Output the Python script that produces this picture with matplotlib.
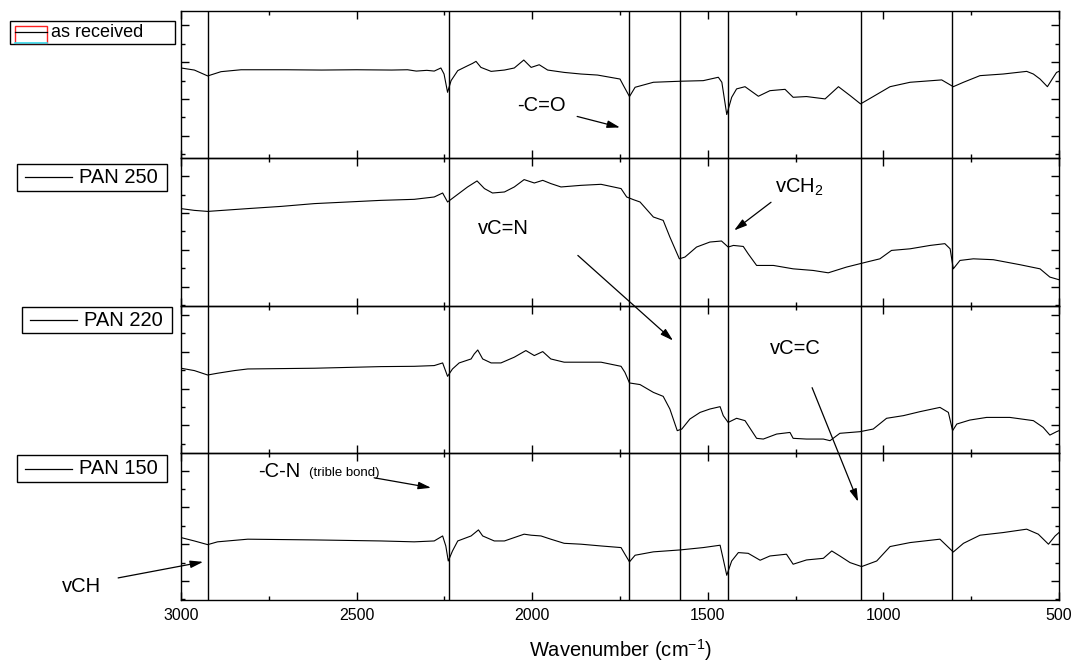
"""FTIR spectra of PAN fibre: as received and after heat treatment at 150, 220 and 250 C.

Four stacked panels sharing the wavenumber axis, band positions marked by vertical
lines and the main assignments annotated with arrows.
"""
import matplotlib
matplotlib.use('Agg')
import matplotlib.pyplot as plt
from matplotlib.lines import Line2D
from matplotlib.patches import Rectangle

plt.rcParams['font.family'] = 'Liberation Sans'
plt.rcParams['mathtext.fontset'] = 'custom'
plt.rcParams['mathtext.rm'] = 'Liberation Sans'

W, H = 1076, 663

# relative transmittance (0 = panel bottom, 1 = panel top)
WN_RECEIVED = [3000, 2962, 2924, 2886, 2829, 2700, 2600, 2500, 2400, 2355, 2330, 2300, 2279, 2260,
               2251, 2241, 2231, 2212, 2184, 2170, 2160, 2146, 2117, 2079, 2051, 2024, 2003, 1980,
               1956, 1909, 1861, 1814, 1750, 1740, 1723, 1707, 1655, 1579, 1513, 1470, 1460, 1446,
               1432, 1418, 1394, 1356, 1323, 1280, 1257, 1219, 1166, 1128, 1095, 1065, 1029, 981,
               924, 834, 801, 772, 725, 659, 592, 573, 554, 533, 516, 507, 500]
T_RECEIVED = [0.613, 0.599, 0.559, 0.588, 0.601, 0.601, 0.599, 0.601, 0.599, 0.601, 0.592, 0.597,
              0.592, 0.613, 0.572, 0.448, 0.527, 0.595, 0.628, 0.644, 0.658, 0.617, 0.590, 0.599,
              0.613, 0.667, 0.617, 0.635, 0.599, 0.583, 0.572, 0.565, 0.538, 0.493, 0.419, 0.482,
              0.516, 0.523, 0.527, 0.550, 0.516, 0.297, 0.414, 0.471, 0.486, 0.421, 0.459, 0.468,
              0.414, 0.419, 0.403, 0.486, 0.426, 0.369, 0.419, 0.486, 0.516, 0.532, 0.486, 0.516,
              0.561, 0.572, 0.590, 0.572, 0.538, 0.486, 0.550, 0.583, 0.590]

WN_250 = [3000, 2962, 2924, 2810, 2715, 2620, 2525, 2431, 2336, 2279, 2255, 2241, 2222, 2184, 2157,
          2136, 2113, 2079, 2051, 2023, 1994, 1970, 1947, 1918, 1861, 1804, 1747, 1731, 1712, 1693,
          1655, 1627, 1608, 1581, 1565, 1532, 1494, 1461, 1442, 1427, 1399, 1385, 1361, 1313, 1257,
          1200, 1157, 1105, 1048, 1010, 977, 924, 867, 825, 810, 801, 782, 744, 687, 611, 554, 526,
          500]
T_250 = [0.658, 0.646, 0.639, 0.658, 0.673, 0.692, 0.703, 0.714, 0.721, 0.737, 0.764, 0.703, 0.737,
         0.805, 0.846, 0.794, 0.764, 0.771, 0.805, 0.855, 0.832, 0.850, 0.828, 0.805, 0.816, 0.823,
         0.794, 0.737, 0.719, 0.703, 0.601, 0.578, 0.465, 0.317, 0.329, 0.397, 0.431, 0.438, 0.397,
         0.408, 0.401, 0.351, 0.272, 0.272, 0.249, 0.238, 0.222, 0.261, 0.295, 0.317, 0.374, 0.385,
         0.408, 0.420, 0.385, 0.249, 0.306, 0.317, 0.311, 0.277, 0.249, 0.193, 0.175]

WN_220 = [3000, 2962, 2924, 2896, 2848, 2810, 2620, 2431, 2336, 2279, 2255, 2241, 2227, 2208, 2174,
          2165, 2155, 2141, 2117, 2089, 2051, 2018, 1994, 1970, 1947, 1909, 1861, 1804, 1747, 1736,
          1723, 1693, 1655, 1627, 1608, 1587, 1574, 1551, 1522, 1494, 1465, 1456, 1442, 1418, 1394,
          1361, 1342, 1304, 1266, 1257, 1219, 1171, 1152, 1124, 1067, 1029, 991, 943, 896, 839, 815,
          803, 791, 754, 706, 640, 573, 545, 526, 507, 500]
T_220 = [0.574, 0.558, 0.528, 0.540, 0.558, 0.569, 0.574, 0.585, 0.587, 0.592, 0.610, 0.519, 0.569,
         0.610, 0.637, 0.671, 0.698, 0.637, 0.610, 0.610, 0.649, 0.694, 0.660, 0.687, 0.637, 0.615,
         0.615, 0.615, 0.587, 0.546, 0.474, 0.463, 0.410, 0.383, 0.297, 0.150, 0.161, 0.229, 0.274,
         0.297, 0.313, 0.252, 0.206, 0.234, 0.218, 0.098, 0.093, 0.127, 0.138, 0.098, 0.093, 0.093,
         0.082, 0.132, 0.143, 0.161, 0.234, 0.252, 0.279, 0.308, 0.274, 0.150, 0.195, 0.222, 0.240,
         0.240, 0.218, 0.172, 0.120, 0.143, 0.150]

WN_150 = [3000, 2962, 2924, 2896, 2810, 2620, 2431, 2336, 2279, 2255, 2246, 2239, 2227, 2212, 2174,
          2153, 2141, 2108, 2079, 2051, 2023, 2003, 1975, 1947, 1909, 1861, 1804, 1747, 1736, 1723,
          1707, 1655, 1579, 1513, 1465, 1456, 1446, 1432, 1413, 1385, 1351, 1323, 1276, 1257, 1219,
          1171, 1147, 1124, 1095, 1062, 1019, 981, 924, 839, 801, 772, 725, 659, 592, 559, 530, 511,
          500]
T_150 = [0.424, 0.401, 0.376, 0.395, 0.413, 0.408, 0.401, 0.395, 0.401, 0.435, 0.367, 0.265, 0.333,
         0.401, 0.435, 0.476, 0.435, 0.401, 0.401, 0.424, 0.447, 0.440, 0.435, 0.413, 0.385, 0.379,
         0.367, 0.356, 0.311, 0.259, 0.304, 0.327, 0.340, 0.356, 0.372, 0.277, 0.168, 0.265, 0.322,
         0.317, 0.270, 0.299, 0.311, 0.243, 0.272, 0.283, 0.333, 0.299, 0.254, 0.227, 0.265, 0.363,
         0.390, 0.413, 0.326, 0.385, 0.440, 0.458, 0.481, 0.447, 0.379, 0.435, 0.458]

LABELS = ['as received', 'PAN 250', 'PAN 220', 'PAN 150']
BANDS = [2923, 2237, 1724, 1579, 1442, 1064, 805]

# first y tick (axes fraction) of each panel; ticks every 0.125 from there
YTICK_START = [0.027, 0.003, 0.061, 0.004]


def fig_xy(x, y):
    """pixel position on the canvas -> figure fraction"""
    return x / W, 1 - y / H


def legend_box(x0, y0, x1, y1, line_x0, line_x1, text_x, label, size, received=False):
    (fx0, fy0), (fx1, fy1) = fig_xy(x0, y0), fig_xy(x1, y1)
    fig = plt.gcf()
    fig.add_artist(Rectangle((fx0, fy1), fx1 - fx0, fy0 - fy1, transform=fig.transFigure,
                             facecolor='white', edgecolor='black', lw=1.0))
    ym = (y0 + y1) / 2
    lx0, ly = fig_xy(line_x0, ym)
    lx1, _ = fig_xy(line_x1, ym)
    if received:
        (rx0, ry0), (rx1, ry1) = fig_xy(line_x0, y0 + 5), fig_xy(line_x1, y1 - 1)
        fig.add_artist(Rectangle((rx0, ry1), rx1 - rx0, ry0 - ry1, transform=fig.transFigure,
                                 facecolor='none', edgecolor='#ff2020', lw=1.0))
        fig.add_artist(Line2D([rx0, rx1], [ry1, ry1], transform=fig.transFigure,
                              color='#30e0f0', lw=1.2))
        ly = fig_xy(0, ym - 1)[1]
    fig.add_artist(Line2D([lx0, lx1], [ly, ly], transform=fig.transFigure, color='black', lw=0.9))
    tx, ty = fig_xy(text_x, ym)
    fig.text(tx, ty, label, fontsize=size, ha='left', va='center')


def arrow(ax_from, tail, ax_to, tip):
    ax_from.annotate('', xy=tip, xycoords=ax_to.transData, xytext=tail,
                     textcoords=ax_from.transData, annotation_clip=False,
                     arrowprops=dict(arrowstyle='-|>,head_length=0.55,head_width=0.16',
                                     color='black', lw=0.9, shrinkA=0, shrinkB=0,
                                     mutation_scale=14))


def main():
    fig, axes = plt.subplots(4, 1, figsize=(W / 100, H / 100), dpi=100, sharex=True,
                             gridspec_kw=dict(hspace=0))
    fig.subplots_adjust(left=181 / W, right=1059 / W, top=1 - 11 / H, bottom=1 - 600 / H)

    spectra = [(WN_RECEIVED, T_RECEIVED), (WN_250, T_250), (WN_220, T_220), (WN_150, T_150)]
    for ax, (wn, t), start in zip(axes, spectra, YTICK_START):
        ax.set_facecolor('none')
        ax.plot(wn, t, color='black', lw=0.8)
        for b in BANDS:
            ax.axvline(b, color='black', lw=1.0)
        ax.set_xlim(3000, 500)
        ax.set_ylim(0, 1)
        ticks = [start + 0.125 * k for k in range(9) if start + 0.125 * k < 0.99]
        ax.set_yticks(ticks[1::2])
        ax.set_yticks(ticks[0::2], minor=True)
        ax.set_xticks([3000, 2500, 2000, 1500, 1000, 500])
        ax.set_xticks([2750, 2250, 1750, 1250, 750], minor=True)
        ax.tick_params(which='both', direction='in', top=True, right=True, labelleft=False,
                       width=1.0, color='black')
        ax.tick_params(which='major', length=5.5)
        ax.tick_params(which='minor', length=3)
        for s in ax.spines.values():
            s.set_linewidth(1.0)

    bottom = axes[-1]
    bottom.tick_params(axis='x', labelsize=11.5, pad=6)
    bottom.set_xlabel('Wavenumber (cm$^{\\mathregular{-1}}$)', fontsize=14.5, labelpad=10)

    ax1, ax2, ax3, ax4 = axes
    fs = 14.5

    ax1.text(1975, 0.358, '-C=O', fontsize=fs, ha='center', va='center')
    arrow(ax1, (1872, 0.284), ax1, (1750, 0.209))

    ax2.text(2083, 0.524, 'vC=N', fontsize=fs, ha='center', va='center')
    arrow(ax2, (1870, 0.340), ax3, (1599, 0.762))

    ax2.text(1309, 0.80, 'vCH$_{\\mathregular{2}}$', fontsize=fs, ha='left', va='center')
    arrow(ax2, (1320, 0.701), ax2, (1425, 0.510))

    ax3.text(1252, 0.707, 'vC=C', fontsize=fs, ha='center', va='center')
    arrow(ax3, (1203, 0.442), ax4, (1072, 0.667))

    ax4.text(2781, 0.871, '-C-N', fontsize=fs, ha='left', va='center')
    ax4.text(2636, 0.862, '(trible bond)', fontsize=9.5, ha='left', va='center')
    arrow(ax4, (2450, 0.830), ax4, (2288, 0.762))

    ax4.text(3339, 0.095, 'vCH', fontsize=fs, ha='left', va='center', clip_on=False)
    arrow(ax4, (3179, 0.150), ax4, (2937, 0.259))

    legend_box(10, 21, 175, 44, 15, 47, 51, LABELS[0], 13, received=True)
    legend_box(17, 164, 167, 191, 25, 72, 79, LABELS[1], 14.5)
    legend_box(22, 307, 172, 333, 30, 77, 84, LABELS[2], 14.5)
    legend_box(17, 455, 167, 482, 25, 72, 79, LABELS[3], 14.5)

    fig.savefig('out.png', dpi=100, facecolor='white')


if __name__ == '__main__':
    main()
